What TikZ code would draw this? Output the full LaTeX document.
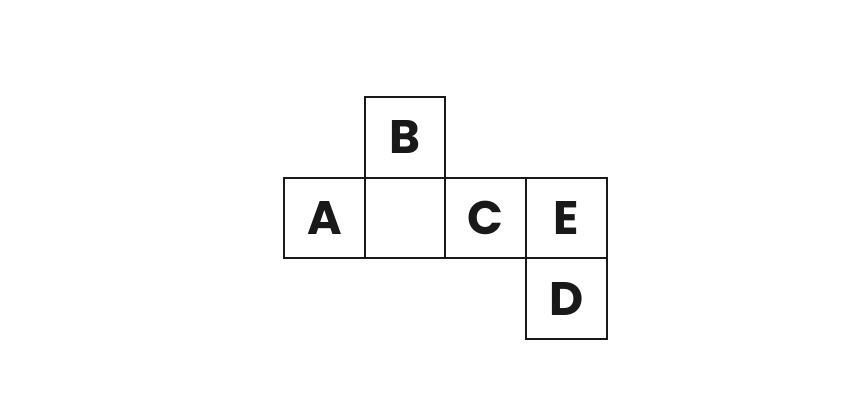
\documentclass[tikz,border=0pt]{standalone}
\usepackage{fontspec}
\setmainfont{Poppins}[BoldFont=* Bold]
\begin{document}
\begin{tikzpicture}[x=1pt,y=-1pt,
  cell/.style={draw=black!90, line width=2pt, minimum size=80.7pt, inner sep=0pt, outer sep=0pt,
    font=\fontsize{47}{47}\selectfont\bfseries, text=black!90, anchor=north west}]
\useasboundingbox (0,0) rectangle (864,408);
\def\s{80.7}
\node[cell] (A) at (284,177.7) {A};
\node[cell] (M) at (284+\s,177.7) {};
\node[cell] (B) at (284+\s,97) {B};
\node[cell] (C) at (284+2*\s,177.7) {C};
\node[cell] (E) at (284+3*\s,177.7) {E};
\node[cell] (D) at (284+3*\s,177.7+\s) {D};
\end{tikzpicture}
\end{document}
